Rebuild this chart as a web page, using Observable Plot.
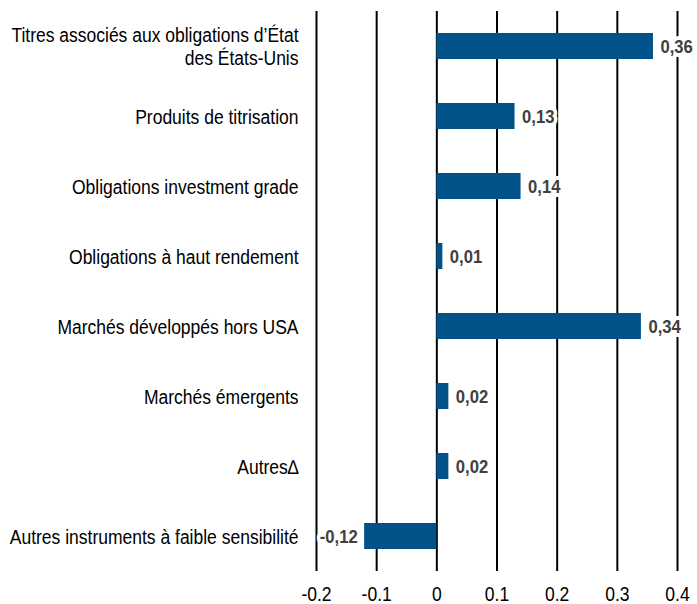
<!DOCTYPE html>
<html><head><meta charset="utf-8">
<script src="https://cdn.jsdelivr.net/npm/d3@7"></script>
<script src="https://cdn.jsdelivr.net/npm/@observablehq/plot@0.6"></script>
<style>
body{margin:0;background:#fff;}
</style>
</head><body><div id="chart"></div>
<script>
const categories = [
  "Titres associés aux obligations d’État\ndes États-Unis",
  "Produits de titrisation",
  "Obligations investment grade",
  "Obligations à haut rendement",
  "Marchés développés hors USA",
  "Marchés émergents",
  "Autres∆",
  "Autres instruments à faible sensibilité"
];
const values = [0.36, 0.13, 0.14, 0.01, 0.34, 0.02, 0.02, -0.12];
const xTicks = [-0.2, -0.1, 0, 0.1, 0.2, 0.3, 0.4];

const data = categories.map((c, i) => ({cat: c, v: values[i]}));
const fmt = v => d3.format(".2f")(v).replace("−", "-").replace(".", ",");
const SX = 0.875;

const chart = Plot.plot({
  width: 697,
  height: 604,
  marginLeft: 316,
  marginRight: 20,
  marginTop: 11,
  marginBottom: 33,
  style: {fontSize: "20px", fontFamily: "'Liberation Sans',Arial,sans-serif", color: "#000", background: "#fff"},
  x: {domain: [-0.2, 0.4], ticks: xTicks, tickSize: 0, tickPadding: 15,
      tickFormat: d => d === 0 ? "0" : d3.format(".1f")(d).replace("−", "-"), label: null},
  y: {domain: categories, paddingInner: 0.63, paddingOuter: 0.315, axis: null, label: null},
  marks: [
    Plot.ruleX(xTicks, {stroke: "#000", strokeWidth: 2}),
    Plot.barX(data, {y: "cat", x: "v", fill: "#005288"}),
    Plot.text(data, {
      y: "cat", x: -0.2, text: "cat", dx: -18, textAnchor: "end",
      lineHeight: 1.15, fill: "#000", fontSize: 20
    }),
    Plot.text(data.filter(d => d.v >= 0), {
      y: "cat", x: "v", text: d => fmt(d.v), dx: 7, textAnchor: "start",
      fontWeight: "bold", fill: "#404040", stroke: "white", strokeWidth: 8, fontSize: 19
    }),
    Plot.text(data.filter(d => d.v < 0), {
      y: "cat", x: "v", text: d => fmt(d.v), dx: -7, textAnchor: "end",
      fontWeight: "bold", fill: "#404040", stroke: "white", strokeWidth: 8, fontSize: 19
    })
  ]
});
document.getElementById("chart").append(chart);
// condense glyphs horizontally around each text's anchor
d3.select(chart).selectAll("text").each(function() {
  const el = d3.select(this);
  const x = +(el.attr("x") || 0);
  const t = el.attr("transform") || "";
  el.attr("transform", `${t} translate(${x},0) scale(${SX},1) translate(${-x},0)`);
});
</script>
</body></html>
